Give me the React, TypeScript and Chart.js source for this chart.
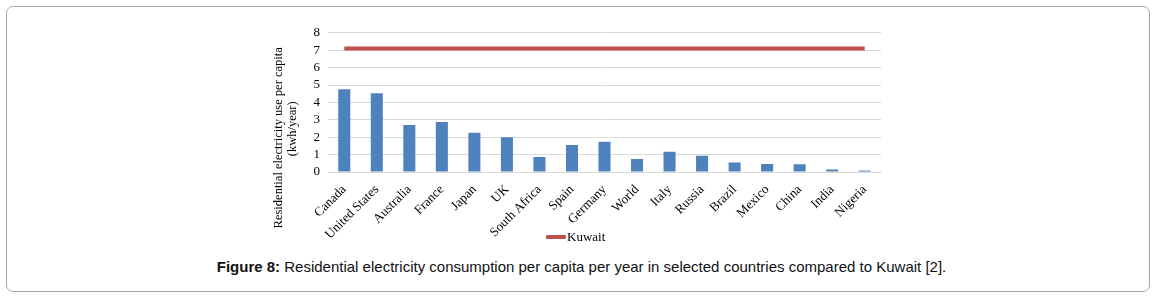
import React, { useEffect, useRef } from "react";
import { Chart, registerables } from "chart.js";

Chart.register(...registerables);

const categories = [
  "Canada", "United States", "Australia", "France", "Japan", "UK", "South Africa",
  "Spain", "Germany", "World", "Italy", "Russia", "Brazil", "Mexico", "China", "India", "Nigeria",
];
const residentialUse = [4.75, 4.52, 2.7, 2.88, 2.25, 2.0, 0.86, 1.55, 1.74, 0.74, 1.16, 0.93, 0.55, 0.46, 0.44, 0.14, 0.08];
const kuwaitUse = [7.1, 7.1, 7.1, 7.1, 7.1, 7.1, 7.1, 7.1, 7.1, 7.1, 7.1, 7.1, 7.1, 7.1, 7.1, 7.1, 7.1];
const yTicks = [0, 1, 2, 3, 4, 5, 6, 7, 8];
const yTitleLines = ["Residential electricity use per capita", "(kwh/year)"];
const seriesNames = ["Residential use", "Kuwait"];

const SERIF = '"Liberation Serif", "Times New Roman", serif';

const yTitlePlugin = {
  id: "yTitle",
  afterDraw(chart: any) {
    const { ctx, chartArea } = chart;
    ctx.save();
    ctx.fillStyle = "#000";
    ctx.textAlign = "center";
    ctx.textBaseline = "middle";
    const items: [string, number, number, number][] = [
      [yTitleLines[0], chartArea.left - 49, chartArea.top + 105, 12.5],
      [yTitleLines[1], chartArea.left - 35, chartArea.top + 96, 12.5],
    ];
    items.forEach(([t, x, y, size]) => {
      ctx.save();
      ctx.font = `${size}px ${SERIF}`;
      ctx.translate(x, y);
      ctx.rotate(-Math.PI / 2);
      ctx.fillText(t, 0, 0);
      ctx.restore();
    });
    ctx.restore();
  },
};

export default function App() {
  const canvasRef = useRef<HTMLCanvasElement | null>(null);

  useEffect(() => {
    if (!canvasRef.current) return;
    const chart = new Chart(canvasRef.current, {
      type: "bar",
      data: {
        labels: categories,
        datasets: [
          {
            type: "bar",
            label: seriesNames[0],
            data: residentialUse,
            backgroundColor: "#4F81BD",
            borderWidth: 0,
            barPercentage: 0.37,
            categoryPercentage: 1,
            order: 2,
          },
          {
            type: "line",
            label: seriesNames[1],
            data: kuwaitUse,
            borderColor: "#C0504D",
            backgroundColor: "#C0504D",
            borderWidth: 4,
            pointRadius: 0,
            borderCapStyle: "butt",
            order: 1,
          } as any,
        ],
      },
      options: {
        responsive: false,
        animation: false,
        layout: { padding: { top: 10, right: 11, left: 0, bottom: 0 } },
        plugins: {
          tooltip: { enabled: false },
          legend: { display: false },
        },
        scales: {
          x: {
            grid: { display: false },
            border: { display: true, color: "#d9d9d9" },
            ticks: {
              color: "#000",
              font: { family: SERIF, size: 13 },
              maxRotation: 45,
              minRotation: 45,
              autoSkip: false,
              padding: 2,
            },
            afterFit: (scale: any) => {
              scale.height = 72;
            },
          },
          y: {
            min: 0,
            max: 8,
            afterBuildTicks: (scale: any) => {
              scale.ticks = yTicks.map((v) => ({ value: v }));
            },
            grid: { color: "#d9d9d9", drawTicks: false },
            border: { display: false },
            ticks: {
              color: "#000",
              font: { family: SERIF, size: 13 },
              padding: 8,
              autoSkip: false,
              stepSize: 1,
            },
            afterFit: (scale: any) => {
              scale.width = 66;
            },
          },
        },
      },
      plugins: [yTitlePlugin],
    });
    return () => chart.destroy();
  }, []);

  return (
    <div style={{ position: "absolute", left: 0, top: 0, width: 1163, height: 298, background: "#fff" }}>
      <div
        style={{
          position: "absolute",
          left: 6,
          top: 6,
          width: 1142,
          height: 284,
          border: "1px solid #a6a6a6",
          borderRadius: 7,
        }}
      />
      <canvas
        ref={canvasRef}
        width={630}
        height={227}
        style={{ position: "absolute", left: 262, top: 17, width: 630, height: 227 }}
      />
      <div
        style={{
          position: "absolute",
          left: 546,
          top: 229,
          height: 16,
          display: "flex",
          alignItems: "center",
          fontFamily: SERIF,
          fontSize: 13,
          color: "#000",
        }}
      >
        <span style={{ display: "inline-block", width: 20, height: 4, background: "#C0504D", borderRadius: 1, marginRight: 1 }} />
        <span>{seriesNames[1]}</span>
      </div>
      <div
        style={{
          position: "absolute",
          left: 0,
          width: 1163,
          top: 258,
          textAlign: "center",
          fontFamily: '"Liberation Sans", Arial, sans-serif',
          fontSize: 15,
          lineHeight: "18px",
          color: "#111",
        }}
      >
        <span style={{ display: "inline-block" }}>
          <b>Figure 8:</b> Residential electricity consumption per capita per year in selected countries compared to Kuwait [2].
        </span>
      </div>
    </div>
  );
}
